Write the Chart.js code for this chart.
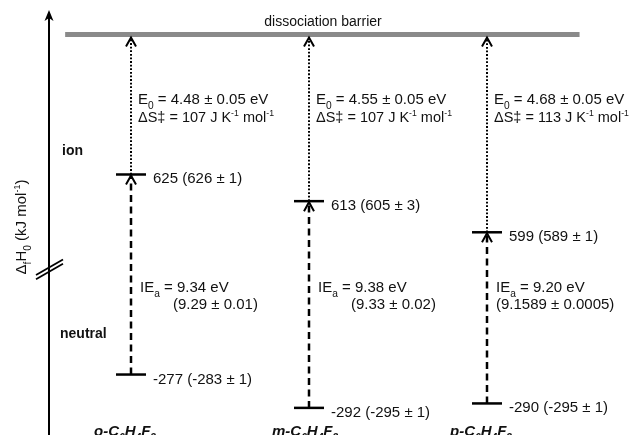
<!DOCTYPE html>
<html>
<head>
<meta charset="utf-8">
<script src="https://cdn.jsdelivr.net/npm/chart.js@4.4.1/dist/chart.umd.min.js"></script>
<style>
  html, body { margin: 0; padding: 0; background: #fff; }
  #wrap { width: 631px; height: 435px; }
</style>
</head>
<body>
<div id="wrap"><canvas id="diagram" width="631" height="435"></canvas></div>
<script>
// one column per isomer
const isomers = ['o', 'm', 'p'];
// enthalpies of formation at 0 K, kJ/mol (literature values in brackets)
const ionLevels = [625, 613, 599];
const ionLit = ['626 ± 1', '605 ± 3', '589 ± 1'];
const neutralLevels = [-277, -292, -290];
const neutralLit = ['-283 ± 1', '-295 ± 1', '-295 ± 1'];
const e0Values = ['4.48', '4.55', '4.68'];
const dsValues = ['107', '107', '113'];
const ieCalc = ['9.34', '9.38', '9.20'];
const ieLit = ['9.29 ± 0.01', '9.33 ± 0.02', '9.1589 ± 0.0005'];
// the axis is broken: the ion part is drawn shifted down by this amount,
// and the barrier sits at a schematic height on the ion part
const ionBreak = 812;
const barrierLevel = 688;

const FONT = '"Liberation Sans", Arial, Helvetica, sans-serif';

// _{..} = subscript, ^{..} = superscript
function richParts(str) {
  const parts = [];
  const re = /([_^])\{([^}]*)\}/g;
  let last = 0, m;
  while ((m = re.exec(str))) {
    if (m.index > last) parts.push({ t: str.slice(last, m.index), k: '' });
    parts.push({ t: m[2], k: m[1] });
    last = re.lastIndex;
  }
  if (last < str.length) parts.push({ t: str.slice(last), k: '' });
  return parts;
}

function drawRich(ctx, str, x, y, size, style, measureOnly) {
  let cx = x;
  ctx.textAlign = 'left';
  ctx.textBaseline = 'alphabetic';
  for (const p of richParts(str)) {
    const s = p.k === '_' ? size * 0.68 : p.k === '^' ? size * 0.6 : size;
    const dy = p.k === '_' ? size * 0.3 : p.k === '^' ? -size * 0.4 : 0;
    ctx.font = (style || '') + ' ' + s + 'px ' + FONT;
    if (!measureOnly) ctx.fillText(p.t, cx, y + dy);
    cx += ctx.measureText(p.t).width;
  }
  return cx - x;
}

function chevron(ctx, x, y, half, h) {
  ctx.beginPath();
  ctx.moveTo(x - half, y + h);
  ctx.lineTo(x, y);
  ctx.lineTo(x + half, y + h);
  ctx.stroke();
}

const annotations = {
  id: 'annotations',
  afterDraw(chart) {
    const ctx = chart.ctx;
    const xs = chart.scales.x, ys = chart.scales.y;
    const barrierPx = ys.getPixelForValue(barrierLevel - ionBreak);
    ctx.save();
    ctx.strokeStyle = '#000';
    ctx.fillStyle = '#111';

    // vertical axis with arrow and break marks
    const ax = 49;
    ctx.lineWidth = 2;
    ctx.beginPath();
    ctx.moveTo(ax, chart.height);
    ctx.lineTo(ax, 16);
    ctx.stroke();
    ctx.beginPath();
    ctx.moveTo(ax, 10);
    ctx.lineTo(ax - 4.5, 21);
    ctx.lineTo(ax, 18);
    ctx.lineTo(ax + 4.5, 21);
    ctx.closePath();
    ctx.fillStyle = '#000';
    ctx.fill();
    ctx.lineWidth = 1.8;
    [0, 4.3].forEach(function (d) {
      ctx.beginPath();
      ctx.moveTo(36, 275 + d);
      ctx.lineTo(63, 259.5 + d);
      ctx.stroke();
    });

    // arrow heads
    ctx.lineWidth = 2;
    isomers.forEach(function (iso, i) {
      const cx = xs.getPixelForValue(i);
      chevron(ctx, cx, ys.getPixelForValue(ionLevels[i] - ionBreak) + 1, 5, 9);
      chevron(ctx, cx, barrierPx + 3, 5, 9);
    });

    ctx.fillStyle = '#111';
    // y axis title
    ctx.save();
    ctx.translate(21, 227);
    ctx.rotate(-Math.PI / 2);
    const yTitle = 'Δ_{f}H_{0} (kJ mol^{-1})';
    const w = drawRich(ctx, yTitle, 0, 0, 15, '', true);
    drawRich(ctx, yTitle, -w / 2, 5, 15, '');
    ctx.restore();

    ctx.font = '14px ' + FONT;
    ctx.textAlign = 'center';
    ctx.fillText('dissociation barrier', 323, barrierPx - 8);

    drawRich(ctx, 'ion', 62, 155, 14, 'bold');
    drawRich(ctx, 'neutral', 60, 338, 14, 'bold');

    const ieIndent = [33, 33, 0];
    isomers.forEach(function (iso, i) {
      const cx = xs.getPixelForValue(i);
      const ionPx = ys.getPixelForValue(ionLevels[i] - ionBreak);
      const neuPx = ys.getPixelForValue(neutralLevels[i]);
      drawRich(ctx, ionLevels[i] + ' (' + ionLit[i] + ')', cx + 22, ionPx + 9, 15, '');
      drawRich(ctx, neutralLevels[i] + ' (' + neutralLit[i] + ')', cx + 22, neuPx + 9, 15, '');
      drawRich(ctx, 'E_{0} = ' + e0Values[i] + ' ± 0.05 eV', cx + 7, barrierPx + 70, 15, '');
      drawRich(ctx, 'ΔS‡ = ' + dsValues[i] + ' J K^{-1} mol^{-1}', cx + 7, barrierPx + 87.5, 14.5, '');
      drawRich(ctx, 'IE_{a} = ' + ieCalc[i] + ' eV', cx + 9, 292, 15, '');
      drawRich(ctx, '(' + ieLit[i] + ')', cx + 9 + ieIndent[i], 308.5, 15, '');
      drawRich(ctx, iso + '-C_{6}H_{4}F_{2}', cx - 37, 436, 15, 'italic bold');
    });
    ctx.restore();
  }
};

const datasets = [];
// dissociation barrier (on top)
datasets.push({
  data: [{ x: -0.37, y: barrierLevel - ionBreak }, { x: 2.52, y: barrierLevel - ionBreak }],
  showLine: true, borderColor: '#8a8a8a', borderWidth: 5, pointRadius: 0,
  borderCapStyle: 'butt', order: 0
});
// energy levels
datasets.push({
  data: isomers.flatMap(function (iso, i) {
    return [{ x: i, y: ionLevels[i] - ionBreak }, { x: i, y: neutralLevels[i] }];
  }),
  pointStyle: 'line', pointRadius: 15, pointBorderWidth: 2.5,
  pointBorderColor: '#000', showLine: false, order: 1
});
isomers.forEach(function (iso, i) {
  // ionisation (dashed)
  datasets.push({
    data: [{ x: i, y: neutralLevels[i] }, { x: i, y: ionLevels[i] - ionBreak }],
    showLine: true, borderColor: '#000', borderWidth: 2.5, borderDash: [7, 4.5],
    pointRadius: 0, order: 2
  });
  // dissociation (dotted)
  datasets.push({
    data: [{ x: i, y: ionLevels[i] - ionBreak }, { x: i, y: barrierLevel - ionBreak }],
    showLine: true, borderColor: '#000', borderWidth: 2, borderDash: [1.8, 1.8],
    pointRadius: 0, order: 2
  });
});

new Chart(document.getElementById('diagram').getContext('2d'), {
  type: 'scatter',
  data: { datasets: datasets },
  options: {
    responsive: false,
    animation: false,
    events: [],
    layout: { padding: 0, autoPadding: false },
    plugins: { legend: { display: false }, tooltip: { enabled: false } },
    scales: {
      x: { type: 'linear', display: false, min: -0.736, max: 2.809 },
      y: { type: 'linear', display: false, min: -304.2, max: -108.5 }
    }
  },
  plugins: [annotations]
});
</script>
</body>
</html>
